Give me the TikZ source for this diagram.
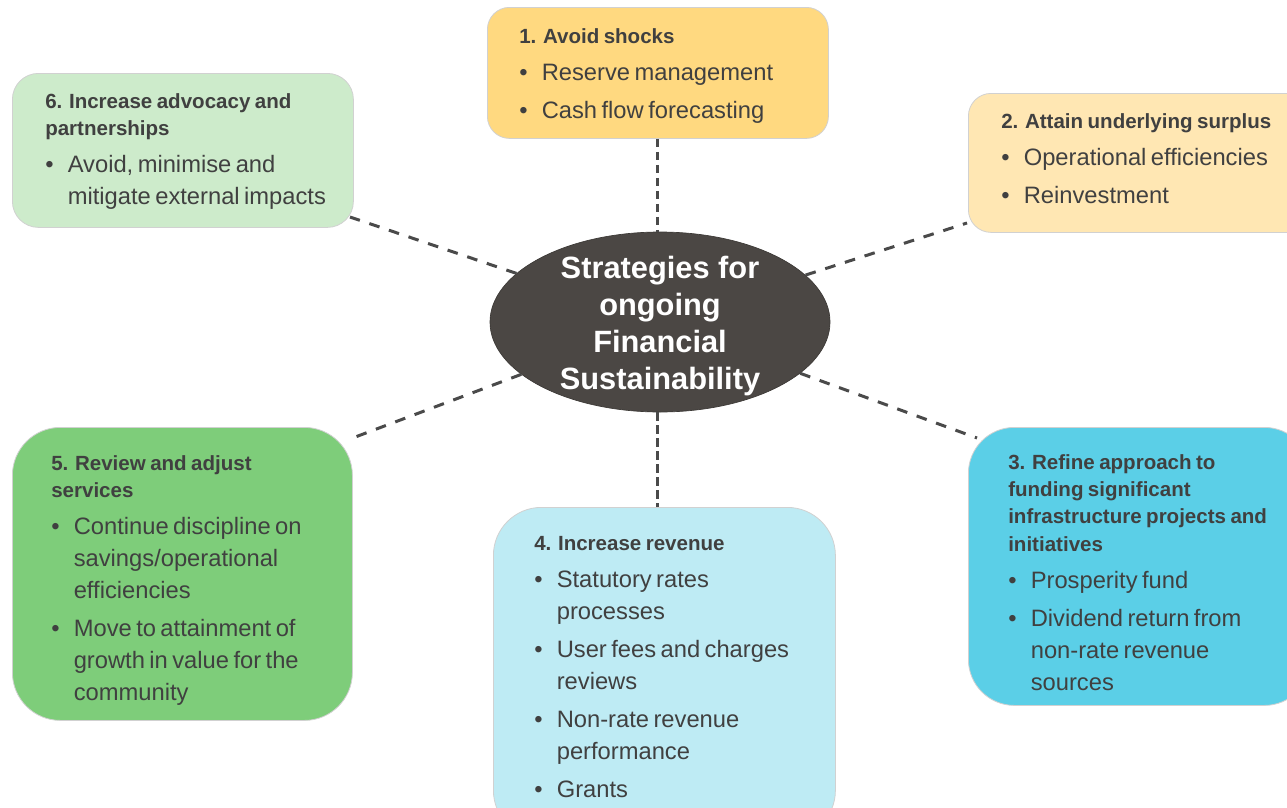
\documentclass[tikz,border=0pt]{standalone}
\usepackage{fontspec}
\setmainfont{Liberation Sans}
\usetikzlibrary{shapes.geometric}
\definecolor{cone}{HTML}{FFD980}
\definecolor{ctwo}{HTML}{FFE7B3}
\definecolor{cthree}{HTML}{5BCFE7}
\definecolor{cfour}{HTML}{BEEBF4}
\definecolor{cfive}{HTML}{7ECD7A}
\definecolor{csix}{HTML}{CDEBCB}
\definecolor{cell}{HTML}{4B4744}
\definecolor{txtgray}{HTML}{404040}
\definecolor{linkgray}{HTML}{4A4A4A}
\newcommand\boxsetup{\setlength\parskip{4.5pt}}
\newcommand\boxhead[1]{{\fontsize{15.4pt}{20.6pt}\selectfont\bfseries #1\par}\vspace{-0.5pt}}
\newcommand\boxitem[1]{{\fontsize{17.8pt}{24pt}\selectfont\hangindent=16.9pt\hangafter=1\noindent\makebox[16.9pt][l]{•}#1\par}}
\tikzset{
  box/.style={draw=black!18, line width=0.6pt, inner sep=0pt, anchor=north west},
  txt/.style={anchor=base west, inner sep=0pt, text width=300pt, text=txtgray},
  link/.style={draw=linkgray, line width=2.25pt},
  vlink/.style={link, dash pattern=on 6.5pt off 3.25pt},
  dlink/.style={link, dash pattern=on 8pt off 7.5pt},
}
\begin{document}
\begin{tikzpicture}[x=0.75pt,y=-0.75pt]
\useasboundingbox (0,0) rectangle (1287,807);
\clip (0,0) rectangle (1287,807);
% boxes
\node[box, fill=cone, minimum width=255.75pt, minimum height=98.25pt, rounded corners=16.5pt] (b1) at (487,7) {};
\node[box, fill=ctwo, minimum width=256.5pt, minimum height=104.25pt, rounded corners=17pt] (b2) at (968,93) {};
\node[box, fill=cthree, minimum width=256.5pt, minimum height=208.5pt, rounded corners=34.5pt] (b3) at (968,427) {};
\node[box, fill=cfour, minimum width=256.5pt, minimum height=248.25pt, rounded corners=36pt] (b4) at (493,507) {};
\node[box, fill=cfive, minimum width=255pt, minimum height=219.75pt, rounded corners=36pt] (b5) at (12,427) {};
\node[box, fill=csix, minimum width=255.75pt, minimum height=115.5pt, rounded corners=19.5pt] (b6) at (12,73) {};
% centre
\node[ellipse, fill=cell, draw=cell!80!black, line width=0.5pt, minimum width=255pt, minimum height=135pt, inner sep=0pt] (ell) at (660,322) {};
\node[align=center, font=\fontsize{23.1pt}{27.75pt}\selectfont\bfseries, text=white, inner sep=0pt] (et) at (660,326) {Strategies for\\ongoing\\Financial\\Sustainability};
% texts
\node[txt] (t1) at (519,43) {\boxsetup\boxhead{1. Avoid shocks}\boxitem{Reserve management}\boxitem{Cash flow forecasting}};
\node[txt] (t2) at (1001,128) {\boxsetup\boxhead{2. Attain underlying surplus}\boxitem{Operational efficiencies}\boxitem{Reinvestment}};
\node[txt] (t3) at (1008,469) {\boxsetup\boxhead{3. Refine approach to\newline funding significant\newline infrastructure projects and\newline initiatives}\boxitem{Prosperity fund}\boxitem{Dividend return from\newline non-rate revenue\newline sources}};
\node[txt] (t4) at (534,550) {\boxsetup\boxhead{4. Increase revenue}\boxitem{Statutory rates\newline processes}\boxitem{User fees and charges\newline reviews}\boxitem{Non-rate revenue\newline performance}\boxitem{Grants}};
\node[txt] (t5) at (51,470) {\boxsetup\boxhead{5. Review and adjust\newline services}\boxitem{Continue discipline on\newline savings/operational\newline efficiencies}\boxitem{Move to attainment of\newline growth in value for the\newline community}};
\node[txt] (t6) at (45,108) {\boxsetup\boxhead{6. Increase advocacy and\newline partnerships}\boxitem{Avoid, minimise and\newline mitigate external impacts}};
% connector ends
\coordinate (e2) at (967,223);
\coordinate (e3) at (977,438);
\coordinate (e5) at (350,439);
\coordinate (e6) at (350,217);
% connectors
\draw[vlink] (b1.south) -- (b1.south |- ell.north);
\draw[vlink] (b1.south |- ell.south) -- (b1.south |- b4.north);
\draw[dlink] (ell) -- (e2);
\draw[dlink] (ell) -- (e3);
\draw[dlink] (ell) -- (e5);
\draw[dlink] (ell) -- (e6);
\end{tikzpicture}
\end{document}
